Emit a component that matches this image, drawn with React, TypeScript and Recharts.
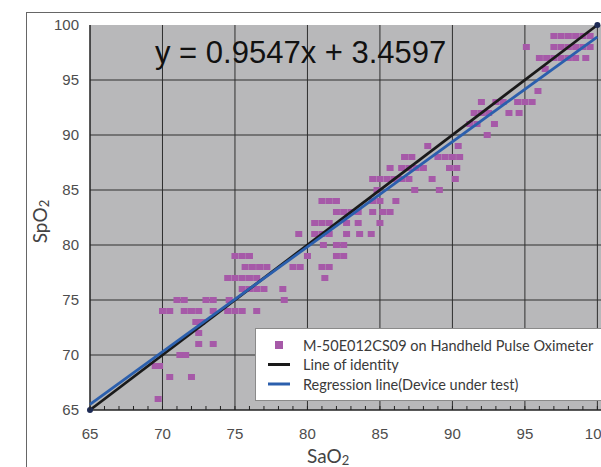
import { ScatterChart, Scatter, XAxis, YAxis, CartesianGrid, Legend, Label } from "recharts";

// regression reported on the chart
const slope = 0.9547;
const intercept = 3.4597;

// SpO2 rows (integer readings) and the SaO2 values found on each row
const spo2Rows = [66, 68, 69, 70, 71, 72, 73, 74, 75, 76, 77, 78, 79, 80, 81, 82, 83, 84, 85, 86, 87, 88, 89, 90, 91, 92, 93, 94, 96, 97, 98, 99];
const sao2ByRow = [
  [69.7],
  [70.5, 72],
  [69.5, 69.8],
  [71.2, 71.6],
  [72.5, 73.5],
  [72.5],
  [72.3, 72.7],
  [70, 70.5, 71.5, 72, 72.5, 73.5, 74.5, 75, 75.5, 76.5],
  [71, 71.5, 73, 73.5, 74.6, 78.4],
  [75.5, 76, 76.5, 77, 78.3],
  [74.5, 75, 75.5, 76, 76.5, 81.2],
  [75.7, 76.2, 76.7, 77.2, 79, 79.5, 81, 81.5],
  [75, 75.5, 76, 80, 82, 82.5],
  [81.1, 82, 82.5],
  [79.4, 80.5, 81, 81.5, 82.7, 83.6, 84.4],
  [80.5, 81, 81.5, 82.7, 83.5, 85],
  [82, 82.5, 83, 83.5, 84.5, 85.2, 85.7],
  [81, 81.5, 82, 84.5, 85, 86.1],
  [84.8, 87.4, 89.1],
  [84.5, 85, 85.5, 86, 86.5, 87, 88.6, 90.2],
  [85.7, 86.5, 87, 87.5, 88, 89.8, 90.3],
  [86.7, 87.2, 89, 89.5, 90, 90.5],
  [88.3, 90.4],
  [92.4],
  [91.2, 91.7, 92.9],
  [91.5, 92, 92.5, 93.9, 94.6],
  [92, 93, 93.5, 94.5, 95, 95.5],
  [95.9],
  [96.4],
  [96, 96.5, 97, 97.5, 98, 98.5, 99.2],
  [95.1, 97, 97.5, 98, 98.5, 99, 99.5],
  [97, 97.5, 98, 98.5, 99, 99.5],
];

const majorTicks = [65, 70, 75, 80, 85, 90, 95, 100];
const minorTicks = Array.from({ length: 36 }, (_, i) => 65 + i);
const gridY = [70, 75, 80, 85, 90, 95];
const lineEnds = [65, 100];

const legendItems = [
  { label: "M-50E012CS09 on Handheld Pulse Oximeter", kind: "square", color: "#a659a8" },
  { label: "Line of identity", kind: "line", color: "#1a1a1a" },
  { label: "Regression line(Device under test)", kind: "line", color: "#2b5fad" },
];

const points = spo2Rows.flatMap((y, i) => sao2ByRow[i].map((x) => ({ x, y })));
const identity = lineEnds.map((v) => ({ x: v, y: v }));
const regression = lineEnds.map((v) => ({ x: v, y: slope * v + intercept }));

const tickFont = "'Liberation Sans', Arial, sans-serif";
const labelFont = "Lato, 'Noto Sans', sans-serif";

function PointMark(props: any) {
  return <rect x={props.cx - 3.5} y={props.cy - 3} width={7} height={6} fill="#a659a8" />;
}

function EndDot(props: any) {
  return <circle cx={props.cx} cy={props.cy} r={3} fill="#1e2b55" />;
}

function NoMark() {
  return <g />;
}

function XTick({ x, y, payload }: any) {
  const v = payload.value;
  const major = v % 5 === 0;
  return (
    <g>
      <line x1={x} x2={x} y1={y} y2={y - 4} stroke="#222" strokeWidth={1} />
      {major && (
        <text x={x} y={y + 29} textAnchor="middle" fontSize={15} fontFamily={tickFont} fill="#4d4d4d">
          {v}
        </text>
      )}
    </g>
  );
}

function XTitle({ viewBox }: any) {
  return (
    <text x={viewBox.x + 217} y={viewBox.y + 53} fontSize={19} fontFamily={labelFont} fill="#444">
      SaO<tspan fontSize={13} dy={2}>2</tspan>
    </text>
  );
}

function YTitle({ viewBox }: any) {
  const cx = 47;
  const cy = viewBox.y + viewBox.height / 2 + 4;
  return (
    <text x={cx} y={cy} textAnchor="middle" transform={`rotate(-90, ${cx}, ${cy})`} fontSize={19} fontFamily={labelFont} fill="#444">
      SpO<tspan fontSize={13} dy={2}>2</tspan>
    </text>
  );
}

function LegendBox() {
  return (
    <svg width={360} height={73} style={{ display: "block" }}>
      <rect x={0.5} y={0.5} width={359} height={72} fill="#fff" stroke="#8a8a8a" />
      {legendItems.map((item, i) => {
        const cy = 17 + i * 19.5;
        return (
          <g key={item.label}>
            {item.kind === "square" ? (
              <rect x={20} y={cy - 4} width={8} height={8} fill={item.color} />
            ) : (
              <line x1={13} x2={35} y1={cy} y2={cy} stroke={item.color} strokeWidth={3} />
            )}
            <text x={48} y={cy + 5.5} fontSize={14.5} fontFamily={labelFont} fill="#3a3a3a">
              {item.label}
            </text>
          </g>
        );
      })}
    </svg>
  );
}

export default function App() {
  return (
    <div style={{ position: "relative", width: 601, height: 467, overflow: "hidden", background: "#fff" }}>
      <style>{`body{margin:0}`}</style>
      <div
        style={{
          position: "absolute",
          left: 26,
          top: 12,
          width: 700,
          height: 600,
          borderTop: "1.5px solid #666",
          borderLeft: "1.5px solid #666",
        }}
      />
      <div style={{ position: "absolute", left: 0, top: 0 }}>
        <ScatterChart width={601} height={467} margin={{ top: 25, right: 0, bottom: 0, left: 0 }}>
          <CartesianGrid
            fill="#b8b8ba"
            fillOpacity={1}
            stroke="#2e2e2e"
            strokeWidth={1}
            horizontalValues={gridY}
            verticalValues={majorTicks.slice(1)}
          />
          <XAxis
            type="number"
            dataKey="x"
            domain={[65, 100.25]}
            ticks={minorTicks}
            interval={0}
            tickSize={0}
            tickMargin={0}
            tick={<XTick />}
            axisLine={{ stroke: "#222", strokeWidth: 1.5 }}
            height={57}
          >
            <Label content={<XTitle />} />
          </XAxis>
          <YAxis
            type="number"
            dataKey="y"
            domain={[65, 100]}
            ticks={majorTicks}
            interval={0}
            width={90}
            tickLine={false}
            tickSize={4}
            tickMargin={7}
            axisLine={{ stroke: "#222", strokeWidth: 1.5 }}
            tick={{ fontSize: 15, fontFamily: tickFont, fill: "#4d4d4d" }}
          >
            <Label content={<YTitle />} />
          </YAxis>
          <Scatter data={points} shape={<PointMark />} isAnimationActive={false} />
          <Scatter
            data={identity}
            line={{ stroke: "#1a1a1a", strokeWidth: 2.8 }}
            shape={<EndDot />}
            isAnimationActive={false}
          />
          <Scatter
            data={regression}
            line={{ stroke: "#2b5fad", strokeWidth: 2.8 }}
            shape={<NoMark />}
            isAnimationActive={false}
          />
          <Legend
            layout="vertical"
            align="center"
            verticalAlign="middle"
            content={<LegendBox />}
            wrapperStyle={{ left: 255, top: 328, width: 360, height: 73 }}
          />
          <text x={155} y={63} fontSize={31} fontFamily={tickFont} fill="#111">
            y = 0.9547x + 3.4597
          </text>
        </ScatterChart>
      </div>
    </div>
  );
}
